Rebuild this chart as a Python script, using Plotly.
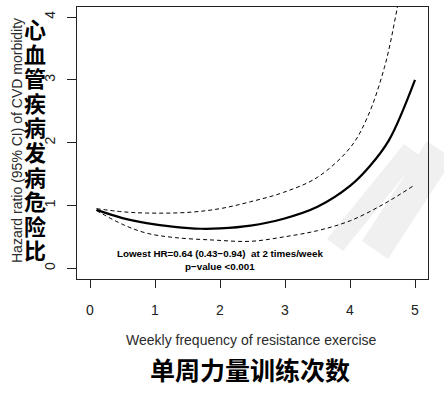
import plotly.graph_objects as go

# Data
hr_x = [0.1, 0.5, 0.87, 1.3, 1.7, 2.0, 2.47, 2.98, 3.5, 4.01, 4.3, 4.6, 5.0]
hr_y = [0.93, 0.80, 0.72, 0.66, 0.63, 0.635, 0.68, 0.79, 0.98, 1.32, 1.62, 2.04, 3.0]

upper_x = [0.1, 0.5, 0.87, 1.5, 2.0, 2.47, 2.98, 3.5, 4.01, 4.27, 4.53, 4.72, 4.9]
upper_y = [0.95, 0.90, 0.88, 0.89, 0.95, 1.06, 1.21, 1.45, 1.93, 2.41, 3.2, 4.11, 5.2]

lower_x = [0.1, 0.5, 0.87, 1.3, 1.9, 2.47, 2.98, 3.5, 4.01, 4.53, 5.0]
lower_y = [0.92, 0.70, 0.56, 0.49, 0.45, 0.43, 0.50, 0.60, 0.76, 1.03, 1.33]

x_ticks = [0, 1, 2, 3, 4, 5]
y_ticks = [0, 1, 2, 3, 4]

ann_line1 = "Lowest HR=0.64 (0.43\u22120.94)  at 2 times/week"
ann_line2 = "p\u2212value <0.001"
x_title = "Weekly frequency of resistance exercise"
y_title = "Hazard ratio (95% CI) of CVD morbidity"
x_title_cn = "单周力量训练次数"
y_title_cn = "心血管疾病发病危险比"

W, H = 444, 396
ml, mr, mt, mb = 77, 16, 7, 117
pw, ph = W - ml - mr, H - mt - mb


def px2paper(px, py):
    return (px - ml) / pw, 1 - (py - mt) / ph


fig = go.Figure()

# faint background watermark bands
for poly in ([(420, 156), (404, 144), (327, 239), (343, 251)],
             [(453, 159), (427, 141), (362, 241), (388, 259)]):
    pts = [px2paper(*p) for p in poly]
    path = "M " + " L ".join(f"{x:.4f},{y:.4f}" for x, y in pts) + " Z"
    fig.add_shape(type="path", path=path, xref="paper", yref="paper",
                  fillcolor="#f0f0f0", line=dict(width=0), layer="below")

fig.add_trace(go.Scatter(x=upper_x, y=upper_y, mode="lines", line_shape="spline",
                         line=dict(color="black", width=1, dash="4px,3px"), hoverinfo="skip"))
fig.add_trace(go.Scatter(x=lower_x, y=lower_y, mode="lines", line_shape="spline",
                         line=dict(color="black", width=1, dash="4px,3px"), hoverinfo="skip"))
fig.add_trace(go.Scatter(x=hr_x, y=hr_y, mode="lines", line_shape="spline",
                         line=dict(color="black", width=2.2), hoverinfo="skip"))

fig.add_annotation(x=2.0, y=0.23, xref="x", yref="y", text="<b>" + ann_line1 + "</b>",
                   showarrow=False, font=dict(family="Liberation Sans", size=9.8, color="black"))
fig.add_annotation(x=2.0, y=0.03, xref="x", yref="y", text="<b>" + ann_line2 + "</b>",
                   showarrow=False, font=dict(family="Liberation Sans", size=9.8, color="black"))


def add_px_text(px, py, text, font, angle=0):
    x, y = px2paper(px, py)
    fig.add_annotation(x=x, y=y, xref="paper", yref="paper", text=text, showarrow=False,
                       xanchor="center", yanchor="middle", textangle=angle, font=font)


add_px_text(251, 340, x_title, dict(family="Liberation Sans", size=14, color="#2a2a2a"))
add_px_text(17, 141, y_title, dict(family="Liberation Sans", size=14, color="#2a2a2a"), angle=-90)
add_px_text(250, 369, "<b>" + x_title_cn + "</b>",
            dict(family="Noto Sans CJK SC", size=25, color="black"))
for i, ch in enumerate(y_title_cn):
    add_px_text(35, 28 + i * 24.6, "<b>" + ch + "</b>",
                dict(family="Noto Sans CJK SC", size=22, color="black"))

fig.update_layout(
    width=W, height=H,
    margin=dict(l=ml, r=mr, t=mt, b=mb, autoexpand=False),
    paper_bgcolor="white", plot_bgcolor="white",
    showlegend=False,
    font=dict(family="Liberation Sans", color="#222222"),
    xaxis=dict(range=[-0.2, 5.2], tickvals=x_ticks, ticks="outside", ticklen=8,
               tickcolor="#222222", showline=True, linecolor="#222222", linewidth=1,
               mirror=True, showgrid=False, zeroline=False, automargin=False,
               tickfont=dict(size=14, color="#222222"), ticklabelstandoff=10),
    yaxis=dict(range=[-0.17, 4.16], tickvals=y_ticks, ticks="outside", ticklen=9,
               tickcolor="#222222", showline=True, linecolor="#222222", linewidth=1,
               mirror=True, showgrid=False, zeroline=False, tickangle=-90, automargin=False,
               tickfont=dict(size=14, color="#222222"), ticklabelstandoff=6),
)

fig.write_html("out.html", config={"displayModeBar": False},
               post_script="document.body.style.margin='0px';document.body.style.overflow='hidden';")
